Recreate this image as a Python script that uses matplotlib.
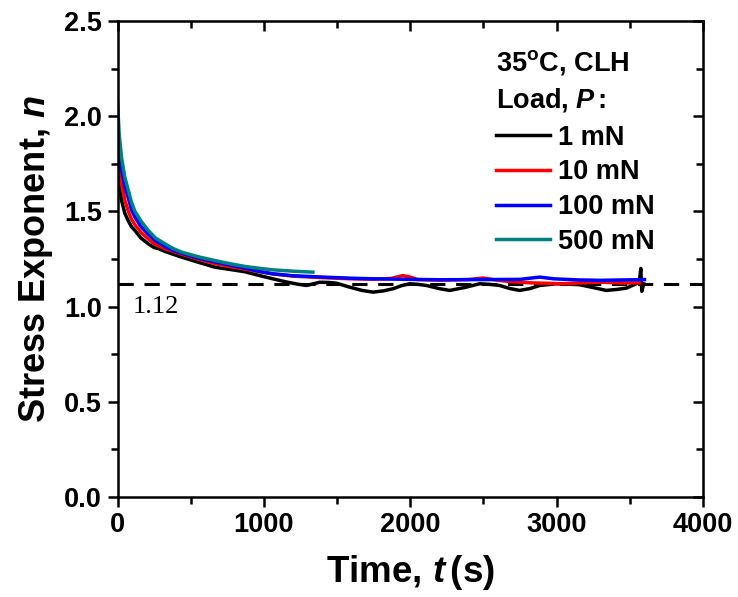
import matplotlib
matplotlib.use("Agg")
import matplotlib.pyplot as plt
from matplotlib.ticker import MultipleLocator, FormatStrFormatter

plt.rcParams['font.family'] = ['Liberation Sans', 'DejaVu Sans']
plt.rcParams['font.weight'] = 'bold'
plt.rcParams['mathtext.fontset'] = 'custom'
plt.rcParams['mathtext.rm'] = 'Liberation Sans:bold'
plt.rcParams['mathtext.it'] = 'Liberation Sans:italic:bold'
plt.rcParams['mathtext.bf'] = 'Liberation Sans:bold'

# 1 mN
t_1 = [0, 5, 12, 28, 50, 74, 95, 119, 160, 210, 250, 278, 324, 380, 438, 552, 665, 770,
       870, 960, 1061, 1150, 1230, 1291, 1340, 1382, 1440, 1496, 1587, 1670, 1747, 1820,
       1883, 1940, 1997, 2050, 2111, 2201, 2270, 2370, 2474, 2540, 2611, 2680, 2747, 2820,
       2884, 2998, 3080, 3157, 3250, 3339, 3410, 3476, 3544, 3565, 3575, 3582, 3595]
n_1 = [1.80, 1.72, 1.65, 1.557, 1.49, 1.45, 1.42, 1.40, 1.36, 1.33, 1.31, 1.305, 1.29,
       1.275, 1.26, 1.233, 1.207, 1.195, 1.183, 1.165, 1.146, 1.13, 1.118, 1.111, 1.12,
       1.128, 1.127, 1.123, 1.102, 1.085, 1.076, 1.083, 1.094, 1.11, 1.12, 1.117, 1.111,
       1.094, 1.085, 1.10, 1.12, 1.117, 1.111, 1.095, 1.085, 1.095, 1.111, 1.12, 1.118,
       1.115, 1.10, 1.085, 1.09, 1.097, 1.12, 1.13, 1.20, 1.08, 1.12]
# 10 mN
t_10 = [0, 5, 12, 28, 50, 74, 95, 119, 160, 210, 260, 324, 380, 438, 550, 665, 770, 870,
        960, 1061, 1200, 1403, 1600, 1744, 1870, 1949, 2000, 2050, 2201, 2400, 2495, 2600,
        2700, 2816, 3044, 3200, 3316, 3450, 3567]
n_10 = [1.90, 1.82, 1.74, 1.644, 1.56, 1.50, 1.46, 1.43, 1.39, 1.355, 1.325, 1.305, 1.29,
        1.275, 1.25, 1.226, 1.21, 1.197, 1.185, 1.172, 1.16, 1.152, 1.146, 1.144, 1.148,
        1.163, 1.155, 1.142, 1.139, 1.142, 1.15, 1.138, 1.13, 1.125, 1.12, 1.126, 1.128,
        1.124, 1.125]
# 100 mN
t_100 = [0, 5, 12, 28, 50, 74, 95, 119, 160, 210, 260, 324, 380, 438, 550, 665, 770, 870,
         960, 1061, 1200, 1403, 1600, 1744, 2000, 2201, 2500, 2750, 2884, 2980, 3150, 3300,
         3450, 3600]
n_100 = [2.00, 1.90, 1.82, 1.72, 1.63, 1.57, 1.51, 1.47, 1.42, 1.38, 1.345, 1.315, 1.295,
         1.28, 1.255, 1.235, 1.218, 1.202, 1.186, 1.172, 1.162, 1.155, 1.149, 1.146, 1.143,
         1.141, 1.142, 1.143, 1.155, 1.146, 1.14, 1.138, 1.14, 1.142]
# 500 mN
t_500 = [0, 5, 12, 28, 50, 74, 95, 119, 160, 210, 260, 324, 380, 438, 550, 665, 770, 870,
         960, 1061, 1200, 1335]
n_500 = [2.08, 2.00, 1.90, 1.78, 1.68, 1.61, 1.55, 1.50, 1.45, 1.40, 1.36, 1.33, 1.305,
         1.286, 1.262, 1.242, 1.225, 1.211, 1.202, 1.193, 1.186, 1.181]

series = [(t_1, n_1, 'black', '1 mN'),
          (t_10, n_10, '#ff0000', '10 mN'),
          (t_100, n_100, '#0000ff', '100 mN'),
          (t_500, n_500, '#008080', '500 mN')]
n_ref = 1.12

fig = plt.figure(figsize=(7.38, 5.97), dpi=100)
ax = fig.add_axes([117.5 / 738, 1 - 497 / 597, (703 - 117.5) / 738, (497 - 21) / 597])

ax.axhline(n_ref, color='black', lw=2.2, ls=(0, (5, 3.5)), zorder=1)
for t, n, c, lab in series:
    ax.plot(t, n, color=c, lw=2.5, label=lab, zorder=2)

ax.text(102, 1.0, '1.12', family='Liberation Serif', fontweight='normal',
        fontsize=19, va='center', ha='left')

ax.set_xlim(0, 4000)
ax.set_ylim(0, 2.5)
ax.xaxis.set_major_locator(MultipleLocator(1000))
ax.xaxis.set_minor_locator(MultipleLocator(500))
ax.yaxis.set_major_locator(MultipleLocator(0.5))
ax.yaxis.set_minor_locator(MultipleLocator(0.25))
ax.yaxis.set_major_formatter(FormatStrFormatter('%.1f'))
ax.tick_params(which='major', direction='out', length=7, width=1.8, labelsize=19.5, pad=4)
ax.tick_params(which='minor', direction='out', length=5, width=1.8)
for s in ax.spines.values():
    s.set_linewidth(1.8)

# mirrored ticks on top/right, pointing inward
top = ax.secondary_xaxis('top')
top.xaxis.set_major_locator(MultipleLocator(1000))
top.xaxis.set_minor_locator(MultipleLocator(500))
top.tick_params(which='both', direction='in', labeltop=False, width=1.8)
top.tick_params(which='major', length=7)
top.tick_params(which='minor', length=5)
right = ax.secondary_yaxis('right')
right.yaxis.set_major_locator(MultipleLocator(0.5))
right.yaxis.set_minor_locator(MultipleLocator(0.25))
right.tick_params(which='both', direction='in', labelright=False, width=1.8)
right.tick_params(which='major', length=7)
right.tick_params(which='minor', length=5)

ax.set_xlabel('Time, $t\\,$(s)', fontsize=26.5, fontweight='bold')
ax.set_ylabel('Stress Exponent, $n$', fontsize=26, fontweight='bold')
ax.xaxis.set_label_coords(0.5, -0.118)
ax.yaxis.set_label_coords(-0.107, 0.5)

leg = ax.legend(loc='upper left', bbox_to_anchor=(496 / 738, 1 - 48 / 597),
                bbox_transform=fig.transFigure, frameon=False,
                title='35$^{\\rm o}$C, CLH\nLoad, $P\\,$:',
                prop={'size': 19.5, 'weight': 'bold'},
                title_fontproperties={'size': 19.5, 'weight': 'bold'},
                alignment='left', handlelength=2.0, handletextpad=0.3,
                labelspacing=0.32, borderpad=0, borderaxespad=0)
leg.get_title().set_linespacing(1.4)
leg._legend_box.sep = 8
for line in leg.get_lines():
    line.set_linewidth(2.5)

plt.savefig('out.png', dpi=100)
